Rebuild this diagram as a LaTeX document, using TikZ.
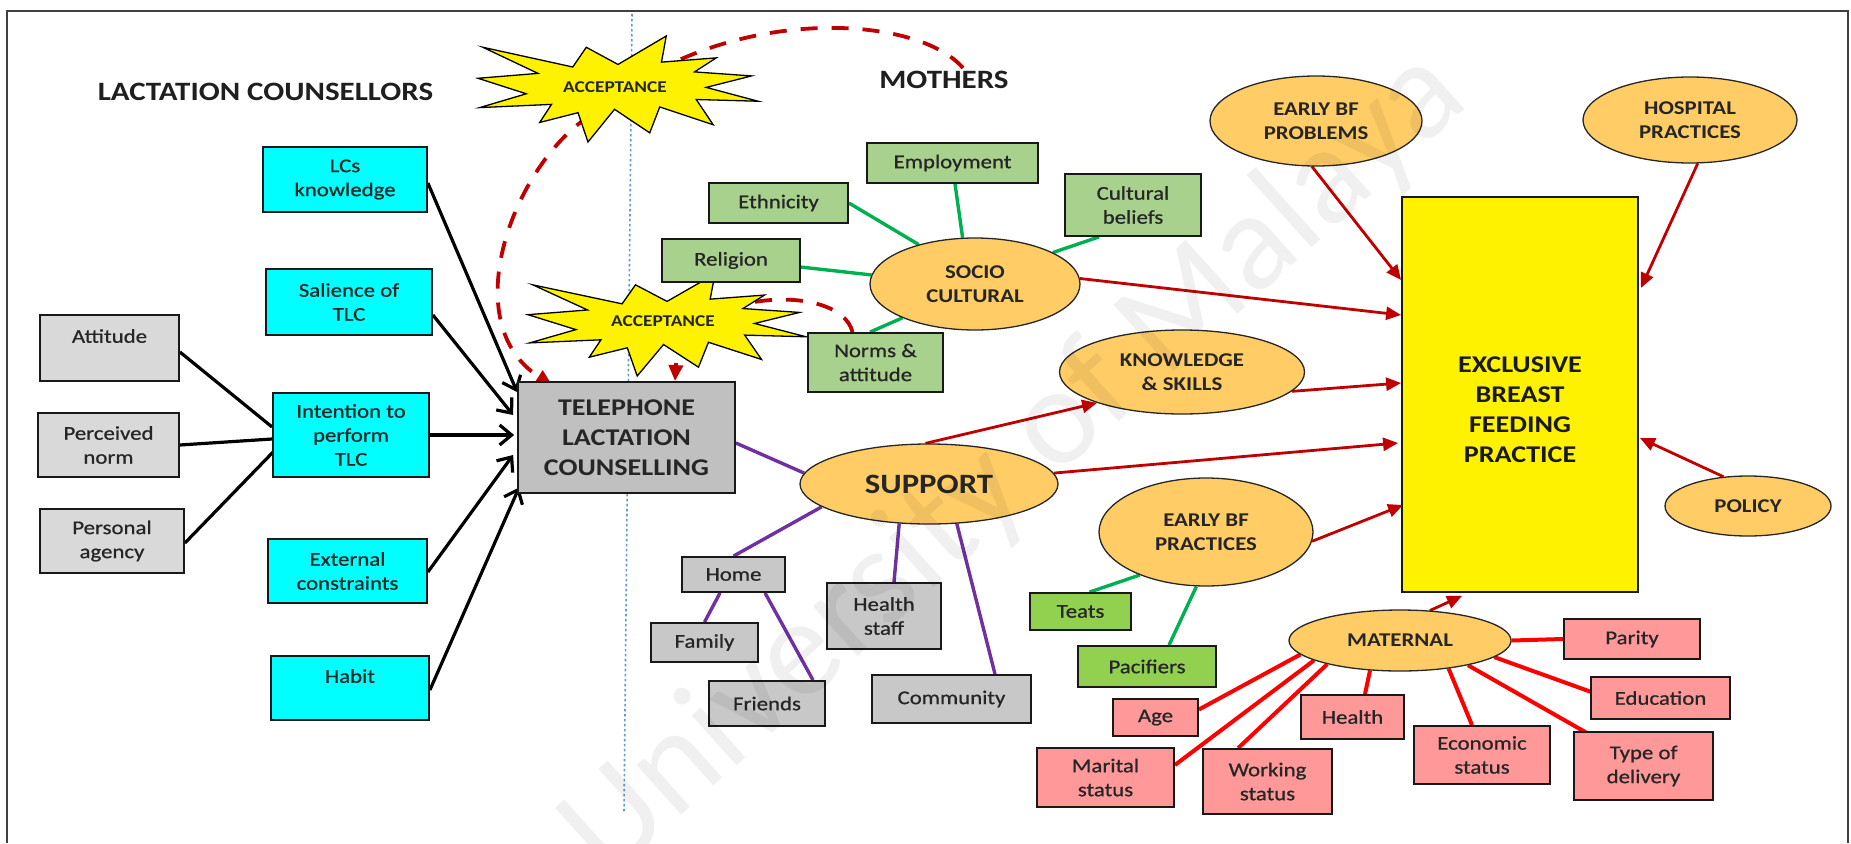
\documentclass[tikz,border=0pt]{standalone}
\usepackage{fontspec}
\setmainfont{Carlito}[FakeStretch=1.17]
\newfontfamily\boxfam{Carlito}[FakeStretch=1.17,FakeBold=0.8]
\newfontfamily\wmfont{Carlito}
\usetikzlibrary{shapes.geometric,arrows.meta,calc}

\definecolor{cyanfill}{HTML}{00FFFF}
\definecolor{grayA}{HTML}{D9D9D9}
\definecolor{grayB}{HTML}{C0C0C0}
\definecolor{grayC}{HTML}{C8C8C8}
\definecolor{greenA}{HTML}{A9D18E}
\definecolor{greenB}{HTML}{92D050}
\definecolor{orangeE}{HTML}{FFCC66}
\definecolor{pinkbox}{HTML}{FF9999}
\definecolor{darkred}{HTML}{C00000}
\definecolor{linegreen}{HTML}{00B050}
\definecolor{linepurple}{HTML}{7030A0}
\definecolor{dotblue}{HTML}{5B9BD5}
\definecolor{framecol}{HTML}{404040}

\newcommand\boxfont{\boxfam\fontsize{19.5}{24}\selectfont}
\newcommand\elfont{\bfseries\fontsize{19.5}{23.5}\selectfont}
\newcommand\headfont{\bfseries\fontsize{26.5}{30}\selectfont}
\newcommand\bigfont{\bfseries\fontsize{24}{30}\selectfont}
\newcommand\supfont{\bfseries\fontsize{28}{30}\selectfont}
\newcommand\starfont{\bfseries\fontsize{16.5}{20}\selectfont}

% explosion outline in a 216 x 216 frame, placed in a box (x0,y0,w,h)
\newcommand\explosion[4]{%
  \begin{scope}[shift={(#1,#2)},xscale=#3/216,yscale=#4/216]
    \path[starfill] (108,58) -- (145.22,0) -- (141.55,53.25) -- (183.80,44.57)
      -- (167.02,73.15) -- (210.97,81.37) -- (176.07,104.75) -- (216,132.90)
      -- (168.37,129.42) -- (181.45,180.95) -- (140.20,144.57) -- (132.47,197.37)
      -- (105.32,149.35) -- (84.85,216) -- (77.15,156.27) -- (47.62,176.17)
      -- (56.67,139.37) -- (1.35,145.87) -- (37.22,117.75) -- (0,86.15)
      -- (46.27,76.17) -- (3.70,22.95) -- (73.12,63.20) -- (83.52,22.95) -- cycle;
  \end{scope}}

\pgfdeclarelayer{back}
\pgfsetlayers{back,main}

\tikzset{
  rbox/.style={draw=black!90, line width=1.8pt, inner sep=0pt, align=center, font=\boxfont, text=black!85},
  cbox/.style={rbox, fill=cyanfill},
  gbox/.style={rbox, fill=grayA},
  sbox/.style={rbox, fill=grayC},
  gnbox/.style={rbox, fill=greenA},
  lgbox/.style={rbox, fill=greenB},
  pkbox/.style={rbox, fill=pinkbox},
  oval/.style={ellipse, draw=black!85, line width=1.3pt, fill=orangeE, inner sep=0pt, align=center, font=\elfont, text=black!85},
  blk/.style={draw=black, line width=3.2pt, -{Straight Barb[length=12pt,width=20pt]}},
  blkline/.style={draw=black, line width=3.2pt},
  redarr/.style={draw=darkred, line width=2.8pt, -{Triangle[length=15pt,width=13pt]}},
  redln/.style={draw=red, line width=4pt},
  grnln/.style={draw=linegreen, line width=3.4pt},
  prpln/.style={draw=linepurple, line width=3.4pt},
  dashred/.style={draw=darkred, line width=3.8pt, dash pattern=on 17pt off 14pt, -{Triangle[length=16pt,width=14pt]}},
  starfill/.style={fill=yellow, draw=black, line width=1.3pt, line join=miter},
  heading/.style={font=\headfont, text=black!88, inner sep=0pt},
}

\begin{document}
\begin{tikzpicture}[x=1pt,y=-1pt]
\useasboundingbox (0,0) rectangle (1851,843);

% page frame and divider
\draw[framecol, line width=2.5pt] (7,843) -- (7,11) -- (1848,11) -- (1848,843);
\draw[dotblue, line width=1.6pt, dash pattern=on 2.5pt off 2.5pt] (632,14) -- (624,812);

% headings
\node[heading] (lchead) at (265.5,91.5) {LACTATION COUNSELLORS};
\node[heading] (mothers) at (944,80) {MOTHERS};

% lactation counsellors side
\node[cbox, minimum width=164, minimum height=65] (lcs) at (345,179.5) {LCs\\knowledge};
\node[cbox, minimum width=166, minimum height=66] (sal) at (349,302) {Salience of\\TLC};
\node[cbox, minimum width=156, minimum height=84] (int) at (351,435) {Intention to\\perform\\TLC};
\node[cbox, minimum width=159, minimum height=64] (ext) at (347.5,571) {External\\constraints};
\node[cbox, minimum width=158, minimum height=64] (hab) at (350,688) {Habit\\\mbox{}};
\node[gbox, minimum width=139, minimum height=66] (att) at (109.5,348) {Attitude\\\mbox{}};
\node[gbox, minimum width=141, minimum height=64] (per) at (108.5,445) {Perceived\\norm};
\node[gbox, minimum width=144, minimum height=64] (pag) at (112,541) {Personal\\agency};
\node[rbox, fill=grayB, minimum width=217, minimum height=111, font=\bigfont] (tlc) at (626.5,437.5) {TELEPHONE\\LACTATION\\COUNSELLING};

% acceptance bursts
\explosion{478}{36}{280}{106}
\node[font=\starfont, text=black!85] (acc1) at (615,87) {ACCEPTANCE};
\explosion{528}{274}{278}{102}
\node[font=\starfont, text=black!85] (acc2) at (663,321) {ACCEPTANCE};

% socio cultural cluster
\node[gnbox, minimum width=171, minimum height=40] (emp) at (952.5,163) {Employment};
\node[gnbox, minimum width=139, minimum height=40] (eth) at (778.5,203) {Ethnicity};
\node[gnbox, minimum width=136, minimum height=62] (cul) at (1133,205) {Cultural\\beliefs};
\node[gnbox, minimum width=138, minimum height=43] (rel) at (731,260.5) {Religion};
\node[gnbox, minimum width=135, minimum height=59] (nor) at (875.5,362.5) {Norms \&\\attitude};
\node[oval, minimum width=210, minimum height=92] (soc) at (975,284) {SOCIO\\CULTURAL};
\node[oval, minimum width=245, minimum height=84] (kns) at (1182,372) {KNOWLEDGE\\\& SKILLS};

% support cluster
\node[oval, minimum width=258, minimum height=80, font=\supfont] (sup) at (929,484) {SUPPORT};
\node[sbox, minimum width=103, minimum height=35] (home) at (733.5,574.5) {Home};
\node[sbox, minimum width=107, minimum height=39] (fam) at (704.5,642.5) {Family};
\node[sbox, minimum width=114, minimum height=66] (hst) at (884,616) {Health\\staff};
\node[sbox, minimum width=116, minimum height=45] (fri) at (767,703.5) {Friends};
\node[sbox, minimum width=159, minimum height=48] (com) at (951.5,699) {Community};

% early breast feeding practices
\node[oval, minimum width=214, minimum height=108] (ebp) at (1206,532) {EARLY BF\\PRACTICES};
\node[lgbox, minimum width=101, minimum height=37] (tea) at (1080.5,611.5) {Teats};
\node[lgbox, minimum width=138, minimum height=41] (pac) at (1147,666.5) {Pacifiers};

% outcome and its other influences
\node[rbox, fill=yellow, minimum width=236, minimum height=395] (ebf) at (1520,394.5) {};
\node[font=\bigfont, align=center, text=black!90] (ebftext) at ($(ebf.center)+(0,15)$) {EXCLUSIVE\\BREAST\\FEEDING\\PRACTICE};
\node[oval, minimum width=212, minimum height=90] (ebpr) at (1316,121) {EARLY BF\\PROBLEMS};
\node[oval, minimum width=214, minimum height=86] (hos) at (1690,120) {HOSPITAL\\PRACTICES};
\node[oval, minimum width=166, minimum height=60] (pol) at (1748,506) {POLICY};

% maternal cluster
\node[oval, minimum width=222, minimum height=61] (mat) at (1400,640.5) {MATERNAL};
\node[pkbox, minimum width=136, minimum height=40] (par) at (1632,639) {Parity};
\node[pkbox, minimum width=139, minimum height=42] (edu) at (1660.5,698) {Education};
\node[pkbox, minimum width=139, minimum height=68] (tod) at (1643.5,766) {Type of\\delivery};
\node[pkbox, minimum width=136, minimum height=58] (eco) at (1482,755) {Economic\\status};
\node[pkbox, minimum width=103, minimum height=44] (hea) at (1352.5,717) {Health};
\node[pkbox, minimum width=129, minimum height=65] (wor) at (1267.5,781.5) {Working\\status};
\node[pkbox, minimum width=85, minimum height=37] (age) at (1155.5,717.5) {Age};
\node[pkbox, minimum width=137, minimum height=59] (mar) at (1105.5,777.5) {Marital\\status};

\begin{pgfonlayer}{back}
  % acceptance feedback loops
  \draw[dashred] ($(mothers.north)+(19,-3)$) .. controls (915,12) and (720,5) .. (600,110)
     .. controls (520,150) and (450,320) .. ($(tlc.north west)+(35,4)$);
  \draw[dashred] ($(nor.north)+(-23,0)$) .. controls (840,280) and (680,290) .. ($(tlc.north)+(48.5,0)$);

  % counsellor determinants
  \draw[blk] ($(lcs.east)+(0,3.5)$) -- ($(tlc.west)+(0,-45.5)$);
  \draw[blk] ($(sal.east)+(0,13)$) -- ($(tlc.west)+(-4,-22.5)$);
  \draw[blk] (int.east) -- ($(tlc.west)+(-3,-2.5)$);
  \draw[blk] ($(ext.east)+(0,1)$) -- ($(tlc.west)+(-4,17.5)$);
  \draw[blk] ($(hab.east)+(0,2)$) -- ($(tlc.west)+(2,50)$);
  \draw[blkline] ($(att.east)+(0,4)$) -- ($(int.west)+(0,-8)$);
  \draw[blkline] (per.east) -- ($(int.west)+(0,4)$);
  \draw[blkline] ($(pag.east)+(0,2)$) -- ($(int.west)+(1,17)$);

  % socio cultural links
  \draw[grnln] (eth.east) -- (soc.145);
  \draw[grnln] ($(emp.south)+(2.5,0)$) -- (soc.105);
  \draw[grnln] ($(cul.south)+(-34,0)$) -- (soc.22);
  \draw[grnln] ($(rel.east)+(-5,6)$) -- (soc.175);
  \draw[grnln] ($(nor.north)+(-5.5,0)$) -- (soc.205);

  % support links
  \draw[prpln] ($(tlc.east)+(0,5.5)$) -- (sup.175);
  \draw[prpln] (sup.-168) -- (home.north);
  \draw[prpln] (sup.-127) -- ($(hst.north)+(10,0)$);
  \draw[prpln] (sup.-55) -- ($(com.north)+(43.5,0)$);
  \draw[prpln] ($(home.south)+(-13.5,0)$) -- (fam.north);
  \draw[prpln] ($(home.south)+(31.5,0)$) -- ($(fri.north)+(46,0)$);

  % early practices links
  \draw[grnln] (ebp.-147) -- ($(tea.north)+(9,0)$);
  \draw[grnln] (ebp.-100) -- ($(pac.north)+(22,0)$);

  % maternal factors
  \draw[redln] (mat.east) -- (par.west);
  \draw[redln] (mat.-10) -- ($(edu.west)+(4,-5)$);
  \draw[redln] (mat.-20) -- ($(tod.north west)+(14,2)$);
  \draw[redln] (mat.-30) -- ($(eco.north)+(-10,0)$);
  \draw[redln] (mat.-135) -- ($(hea.north)+(12.5,0)$);
  \draw[redln] (mat.-162) -- ($(wor.north west)+(36,0)$);
  \draw[redln] (mat.-167) -- ($(mar.east)+(0,-12.5)$);
  \draw[redln] (mat.-172) -- ($(age.east)+(0,-8)$);

  % influences on exclusive breast feeding
  \draw[redarr] (sup.95) -- (kns.200);
  \draw[redarr] (sup.5) -- ($(ebf.west)+(-3,48.5)$);
  \draw[redarr] (soc.3) -- ($(ebf.west)+(0,-79.5)$);
  \draw[redarr] (kns.350) -- ($(ebf.west)+(0,-11.5)$);
  \draw[redarr] (ebp.355) -- ($(ebf.west)+(2,110.5)$);
  \draw[redarr] (ebpr.265) -- ($(ebf.west)+(0,-114.5)$);
  \draw[redarr] (hos.280) -- ($(ebf.east)+(2,-106.5)$);
  \draw[redarr] (pol.130) -- ($(ebf.east)+(1,43.5)$);
  \draw[redarr] (mat.45) -- ($(ebf.south)+(-58,3)$);
\end{pgfonlayer}

% watermark
\node[font=\wmfont\fontsize{140}{140}\selectfont, text=black, opacity=0.06, rotate=42] (wm) at (1015,465) {University of Malaya};
\end{tikzpicture}
\end{document}
